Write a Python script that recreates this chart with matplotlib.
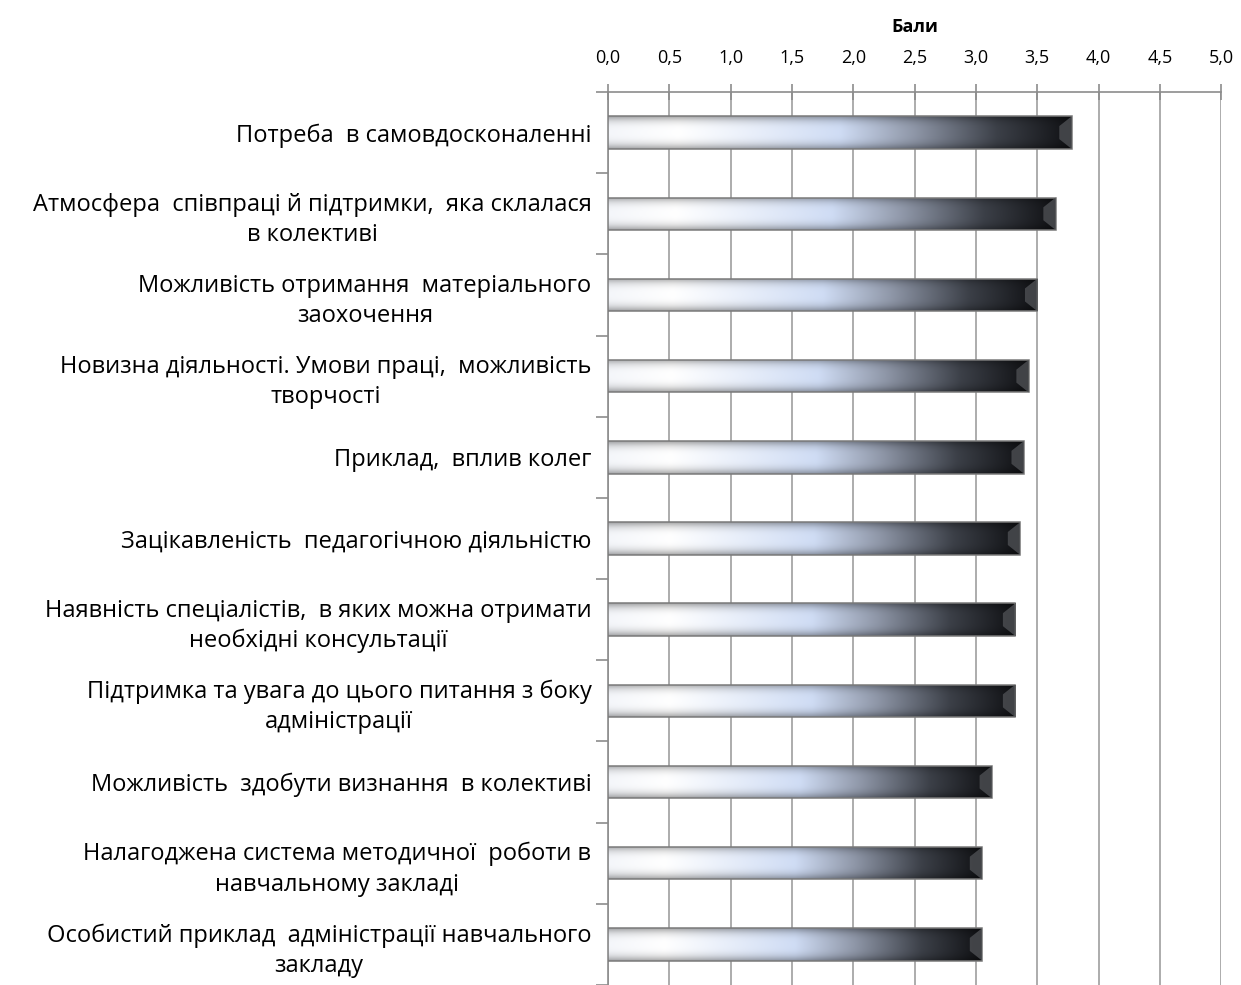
import numpy as np
import matplotlib.pyplot as plt
from matplotlib.colors import LinearSegmentedColormap
from matplotlib.patches import Rectangle, Polygon
from matplotlib.ticker import FuncFormatter

#### Data ####
labels = [
    "Потреба  в самовдосконаленні",
    "Атмосфера  співпраці й підтримки,  яка склалася\nв колективі",
    "Можливість отримання  матеріального\nзаохочення",
    "Новизна діяльності. Умови праці,  можливість\nтворчості",
    "Приклад,  вплив колег",
    "Зацікавленість  педагогічною діяльністю",
    "Наявність спеціалістів,  в яких можна отримати\nнеобхідні консультації",
    "Підтримка та увага до цього питання з боку\nадміністрації",
    "Можливість  здобути визнання  в колективі",
    "Налагоджена система методичної  роботи в\nнавчальному закладі",
    "Особистий приклад  адміністрації навчального\nзакладу",
]
scores = [3.78, 3.65, 3.50, 3.43, 3.39, 3.36, 3.32, 3.32, 3.13, 3.05, 3.05]
xticks = [0.0, 0.5, 1.0, 1.5, 2.0, 2.5, 3.0, 3.5, 4.0, 4.5, 5.0]

plt.rcParams['font.family'] = ['Open Sans', 'DejaVu Sans']

#### Gradient for the bars: white -> light blue -> dark ####
cmap = LinearSegmentedColormap.from_list(
    "bar", [(0.0, "#f4f6fa"), (0.15, "#ffffff"), (0.5, "#cfdcf4"),
            (0.66, "#8f97a8"), (0.84, "#3c4048"), (1.0, "#101114")])

fig = plt.figure(figsize=(12.41, 9.85), dpi=100)
ax = fig.add_axes([0.49, 0.0, 0.494, 0.9066])

n = len(scores)
ys = np.arange(n)
h = 0.4

gx = np.linspace(0, 1, 256)
gy = np.linspace(-1, 1, 40)
base = cmap(gx)[:, :3]
shade = 1 - 0.35 * np.abs(gy) ** 3      # darker top/bottom edges
img = base[None, :, :] * shade[:, None, None]

for y, v in zip(ys, scores):
    rect = Rectangle((0, y - h / 2), v, h, facecolor="none",
                     edgecolor="#7a7a7a", lw=1.1, zorder=4)
    ax.add_patch(rect)
    im = ax.imshow(img, extent=[0, v, y + h / 2, y - h / 2], aspect="auto",
                   interpolation="bilinear", zorder=3)
    im.set_clip_path(rect)
    # bevel at the end of the bar
    bev = Polygon([[v, y - h / 2], [v - 0.1, y - h / 5], [v - 0.1, y + h / 5], [v, y + h / 2]],
                  closed=True, facecolor="#4a4c50", edgecolor="none", alpha=0.85, zorder=5)
    ax.add_patch(bev)

ax.set_xlim(0, 5)
ax.set_ylim(n - 0.5, -0.5)

# x axis on top
ax.xaxis.tick_top()
ax.xaxis.set_label_position("top")
ax.set_xticks(xticks)
ax.xaxis.set_major_formatter(FuncFormatter(lambda x, p: f"{x:.1f}".replace(".", ",")))
ax.tick_params(axis="x", direction="inout", length=12, width=1.2, color="#8c8c8c",
               labelsize=13, pad=12)
ax.set_xlabel("Бали", fontsize=13, fontweight="bold", labelpad=12)
ax.grid(axis="x", color="#a6a6a6", lw=1.3, zorder=0)
ax.set_axisbelow(True)

# y axis: ticks between categories, labels at centres
ax.set_yticks(np.arange(n + 1) - 0.5)
ax.set_yticklabels([])
ax.tick_params(axis="y", which="major", direction="out", length=9, width=1.2, color="#8c8c8c")
ax.set_yticks(ys, minor=True)
ax.set_yticklabels(labels, minor=True, fontsize=17, multialignment="center", linespacing=1.35)
ax.tick_params(axis="y", which="minor", length=0, pad=12)

for s in ["right", "bottom"]:
    ax.spines[s].set_visible(False)
for s in ["top", "left"]:
    ax.spines[s].set_color("#8c8c8c")
    ax.spines[s].set_linewidth(1.2)

fig.savefig("out.png", dpi=100)
